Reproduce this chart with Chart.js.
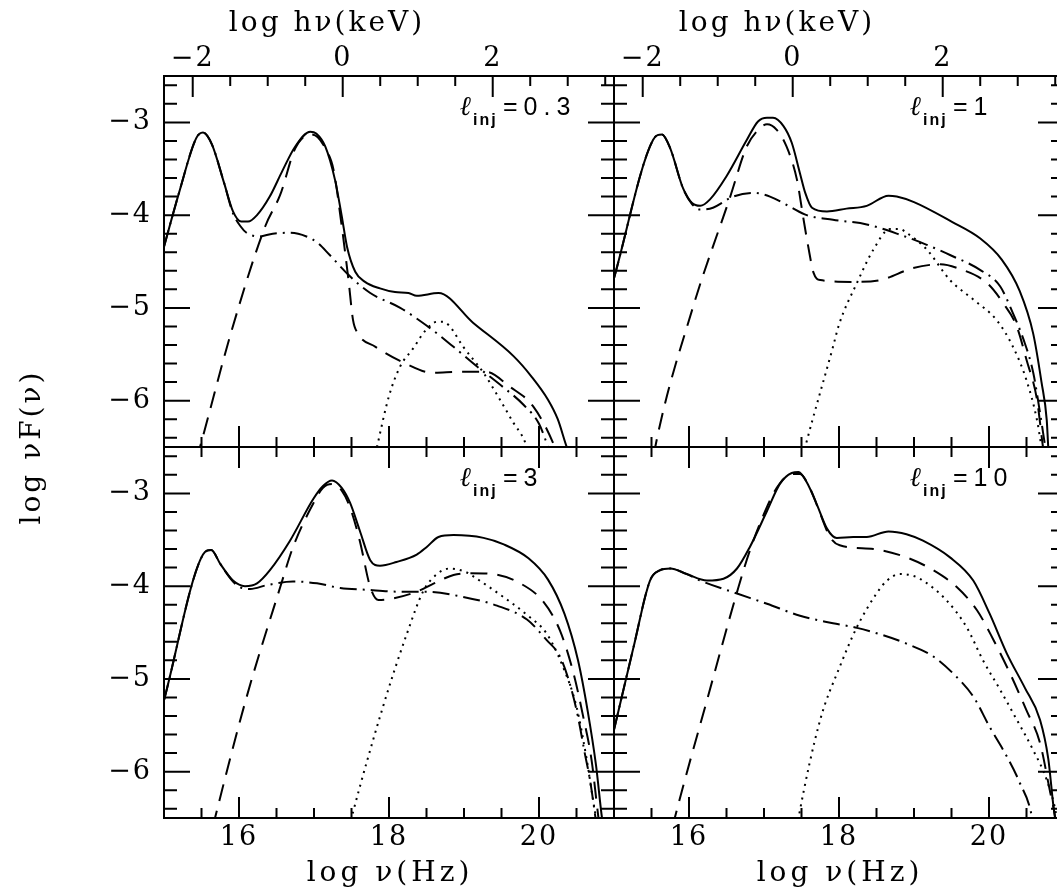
<!DOCTYPE html>
<html><head><meta charset="utf-8">
<script src="https://cdn.jsdelivr.net/npm/chart.js@4/dist/chart.umd.min.js"></script>
<style>
html,body{margin:0;padding:0;background:#fff;overflow:hidden;width:1057px;height:894px;}
canvas{position:absolute;left:0;top:0;}
</style></head><body>
<canvas id="c0" width="1080" height="894"></canvas>
<canvas id="c1" width="1080" height="894"></canvas>
<canvas id="c2" width="1080" height="894"></canvas>
<canvas id="c3" width="1080" height="894"></canvas>
<script>
// ---------- tick values ----------
const hzMajor = [16, 18, 20];
const hzMinor = [15.5, 16.5, 17, 17.5, 18.5, 19, 19.5, 20.5];
const kevMajor = [-2, 0, 2];
const kevMinor = [-1.5, -1, -0.5, 0.5, 1, 1.5, 2.5, 3, 3.5];
const yMajor = [-6, -5, -4, -3];
const yMinor = [-6.4, -6.2, -5.8, -5.6, -5.4, -5.2, -4.8, -4.6, -4.4, -4.2, -3.8, -3.6, -3.4, -3.2, -2.8, -2.6];
const KEV_SHIFT = 17.383; // log10(1 keV / h  in Hz)
const lInj = ['0.3', '1', '3', '10'];

// ---------- l_inj = 0.3 ----------
const tlSolid = [[15.0,-4.34],[15.2,-3.76],[15.43,-3.17],[15.52,-3.11],[15.64,-3.24],[15.8,-3.65],[15.92,-3.96],[16.03,-4.07],[16.12,-4.07],[16.24,-4.0],[16.41,-3.80],[16.58,-3.52],[16.75,-3.26],[16.95,-3.10],[17.03,-3.12],[17.15,-3.26],[17.28,-3.62],[17.37,-4.01],[17.44,-4.34],[17.55,-4.61],[17.68,-4.72],[17.88,-4.79],[18.08,-4.83],[18.26,-4.84],[18.37,-4.87],[18.66,-4.84],[19.12,-5.16],[19.66,-5.52],[19.9,-5.74],[20.12,-5.99],[20.25,-6.2],[20.37,-6.5],[20.42,-6.6]];
const tlDashed = [[15.43,-6.64],[15.48,-6.5],[15.9,-5.25],[16.35,-4.12],[16.55,-3.78],[16.75,-3.28],[16.95,-3.13],[17.05,-3.16],[17.15,-3.28],[17.26,-3.51],[17.37,-4.12],[17.46,-4.70],[17.52,-5.13],[17.58,-5.27],[17.82,-5.42],[18.22,-5.60],[18.58,-5.70],[18.95,-5.69],[19.3,-5.69],[19.61,-5.85],[19.92,-6.06],[20.21,-6.5],[20.25,-6.6]];
const tlDashDot = [[15.0,-4.34],[15.2,-3.76],[15.43,-3.17],[15.52,-3.11],[15.64,-3.24],[15.8,-3.65],[15.92,-3.98],[16.02,-4.12],[16.10,-4.19],[16.26,-4.23],[16.45,-4.20],[16.68,-4.19],[16.90,-4.23],[17.05,-4.30],[17.21,-4.43],[17.48,-4.66],[17.75,-4.84],[18.15,-5.00],[18.50,-5.19],[18.86,-5.42],[19.17,-5.63],[19.5,-5.84],[19.8,-6.05],[20.0,-6.25],[20.12,-6.5],[20.16,-6.6]];
const tlDotted = [[17.80,-6.65],[17.84,-6.5],[18.0,-5.95],[18.15,-5.63],[18.32,-5.44],[18.48,-5.25],[18.64,-5.15],[18.72,-5.15],[18.8,-5.19],[18.99,-5.42],[19.26,-5.70],[19.48,-5.99],[19.66,-6.24],[19.81,-6.44],[19.85,-6.55]];

// ---------- l_inj = 1 ----------
const trSolid = [[15.0,-4.68],[15.52,-3.19],[15.64,-3.13],[15.75,-3.28],[15.92,-3.71],[16.04,-3.87],[16.15,-3.90],[16.28,-3.83],[16.50,-3.58],[16.77,-3.19],[16.92,-2.99],[17.04,-2.95],[17.12,-2.95],[17.26,-3.04],[17.37,-3.22],[17.48,-3.55],[17.55,-3.76],[17.64,-3.92],[17.84,-3.96],[18.10,-3.93],[18.37,-3.90],[18.66,-3.79],[18.77,-3.80],[19.0,-3.86],[19.5,-4.07],[19.88,-4.25],[20.17,-4.48],[20.41,-4.82],[20.59,-5.28],[20.70,-5.80],[20.77,-6.21],[20.79,-6.5],[20.80,-6.6]];
const trDashed = [[15.53,-6.6],[15.55,-6.5],[16.05,-5.0],[16.55,-3.80],[16.77,-3.26],[16.90,-3.10],[17.04,-3.02],[17.17,-3.08],[17.30,-3.26],[17.44,-3.62],[17.52,-4.01],[17.59,-4.34],[17.66,-4.62],[17.75,-4.70],[18.19,-4.72],[18.55,-4.70],[18.99,-4.57],[19.35,-4.53],[19.61,-4.58],[19.97,-4.73],[20.19,-4.95],[20.37,-5.20],[20.50,-5.56],[20.64,-5.99],[20.72,-6.5],[20.74,-6.6]];
const trDashDot = [[15.0,-4.68],[15.52,-3.19],[15.64,-3.13],[15.75,-3.28],[15.92,-3.71],[16.04,-3.88],[16.15,-3.94],[16.32,-3.92],[16.59,-3.80],[16.86,-3.76],[17.08,-3.80],[17.35,-3.91],[17.57,-4.0],[17.92,-4.05],[18.37,-4.10],[18.81,-4.21],[19.17,-4.32],[19.48,-4.43],[19.88,-4.59],[20.15,-4.77],[20.32,-5.06],[20.46,-5.34],[20.59,-5.70],[20.68,-6.13],[20.75,-6.5],[20.77,-6.6]];
const trDotted = [[17.52,-6.6],[17.55,-6.5],[17.92,-5.42],[18.0,-5.18],[18.24,-4.73],[18.46,-4.37],[18.68,-4.15],[18.81,-4.15],[18.9,-4.19],[19.17,-4.37],[19.48,-4.70],[19.79,-4.91],[20.10,-5.13],[20.32,-5.42],[20.50,-5.78],[20.64,-6.21],[20.70,-6.5],[20.72,-6.6]];

// ---------- l_inj = 3 ----------
const blSolid = [[15.0,-5.23],[15.52,-3.66],[15.63,-3.61],[15.75,-3.76],[15.92,-3.94],[16.08,-4.0],[16.24,-3.97],[16.41,-3.83],[16.68,-3.51],[16.99,-3.06],[17.12,-2.92],[17.24,-2.86],[17.37,-2.94],[17.48,-3.10],[17.61,-3.40],[17.75,-3.72],[17.88,-3.78],[18.10,-3.74],[18.37,-3.66],[18.50,-3.58],[18.66,-3.47],[18.86,-3.45],[19.26,-3.48],[19.53,-3.55],[19.86,-3.70],[20.12,-3.93],[20.34,-4.30],[20.52,-4.80],[20.65,-5.35],[20.76,-5.93],[20.84,-6.5],[20.86,-6.6]];
const blDashed = [[15.65,-6.6],[15.68,-6.5],[16.1,-5.2],[16.55,-4.01],[16.72,-3.58],[16.99,-3.11],[17.12,-2.94],[17.24,-2.90],[17.37,-2.97],[17.48,-3.15],[17.61,-3.51],[17.75,-4.01],[17.86,-4.15],[18.01,-4.14],[18.37,-4.06],[18.6,-3.97],[18.86,-3.88],[19.08,-3.86],[19.39,-3.87],[19.75,-3.97],[20.06,-4.17],[20.28,-4.48],[20.46,-4.94],[20.59,-5.41],[20.70,-5.87],[20.79,-6.48],[20.81,-6.6]];
const blDashDot = [[15.0,-5.23],[15.52,-3.66],[15.63,-3.61],[15.75,-3.76],[15.92,-3.95],[16.01,-4.01],[16.15,-4.03],[16.37,-3.99],[16.72,-3.95],[17.04,-3.97],[17.35,-4.02],[17.70,-4.04],[18.15,-4.06],[18.50,-4.06],[18.95,-4.11],[19.44,-4.21],[19.84,-4.36],[20.10,-4.58],[20.28,-4.76],[20.41,-5.05],[20.52,-5.41],[20.61,-5.80],[20.68,-6.09],[20.75,-6.48],[20.77,-6.6]];
const blDotted = [[17.47,-6.6],[17.50,-6.5],[17.92,-5.30],[18.24,-4.51],[18.46,-4.05],[18.64,-3.87],[18.81,-3.81],[19.03,-3.85],[19.17,-3.92],[19.53,-4.12],[19.84,-4.31],[20.10,-4.51],[20.32,-4.87],[20.50,-5.30],[20.63,-5.84],[20.72,-6.30],[20.76,-6.5],[20.78,-6.6]];

// ---------- l_inj = 10 ----------
const brSolid = [[15.0,-5.55],[15.26,-4.66],[15.48,-3.94],[15.61,-3.83],[15.75,-3.81],[15.97,-3.87],[16.24,-3.94],[16.46,-3.92],[16.64,-3.81],[16.81,-3.58],[17.04,-3.19],[17.21,-2.90],[17.37,-2.78],[17.46,-2.77],[17.57,-2.88],[17.70,-3.11],[17.84,-3.38],[17.97,-3.48],[18.19,-3.47],[18.37,-3.47],[18.66,-3.41],[18.90,-3.44],[19.12,-3.51],[19.48,-3.69],[19.79,-3.94],[20.01,-4.30],[20.24,-4.73],[20.48,-5.10],[20.68,-5.44],[20.79,-5.86],[20.86,-6.38],[20.88,-6.5],[20.89,-6.6]];
const brDashed = [[15.78,-6.6],[15.81,-6.5],[16.25,-5.2],[16.66,-4.01],[16.81,-3.62],[16.99,-3.24],[17.17,-2.94],[17.37,-2.79],[17.48,-2.79],[17.61,-2.94],[17.75,-3.22],[17.88,-3.47],[18.01,-3.56],[18.46,-3.60],[18.90,-3.69],[19.26,-3.83],[19.57,-4.01],[19.84,-4.26],[20.06,-4.58],[20.28,-4.94],[20.50,-5.34],[20.68,-5.69],[20.81,-6.20],[20.88,-6.48],[20.90,-6.6]];
const brDashDot = [[15.0,-5.55],[15.26,-4.66],[15.48,-3.94],[15.61,-3.83],[15.75,-3.81],[15.97,-3.87],[16.15,-3.94],[16.64,-4.08],[17.04,-4.19],[17.48,-4.32],[17.92,-4.40],[18.24,-4.45],[18.59,-4.53],[18.90,-4.62],[19.26,-4.76],[19.52,-4.94],[19.79,-5.19],[20.01,-5.52],[20.24,-5.84],[20.41,-6.12],[20.57,-6.48],[20.59,-6.6]];
const brDotted = [[17.44,-6.6],[17.46,-6.5],[17.75,-5.44],[18.01,-4.87],[18.24,-4.44],[18.50,-4.08],[18.64,-3.94],[18.81,-3.87],[18.99,-3.89],[19.12,-3.94],[19.43,-4.15],[19.70,-4.44],[19.92,-4.80],[20.15,-5.12],[20.37,-5.44],[20.59,-5.77],[20.77,-6.09],[20.90,-6.48],[20.92,-6.6]];

// ---------- drawing ----------
const SERIF = '"DejaVu Serif", "Liberation Serif", serif';
const SANS = '"Liberation Sans", Arial, sans-serif';
const fmt = v => (v < 0 ? '\u2212' + Math.abs(v) : String(v));

function lineDs(pts, dash) {
  return {
    data: pts.map(([x, y]) => ({x, y})),
    borderColor: '#000', borderWidth: 2, borderDash: dash,
    pointRadius: 0, fill: false, cubicInterpolationMode: 'monotone',
    clip: 0, xAxisID: 'x', yAxisID: 'y'
  };
}

function decoPlugin(p) {
  return {
    id: 'deco' + p.idx,
    beforeDraw(chart) { chart.ctx.letterSpacing = '2px'; },
    afterDatasetsDraw(chart) {
      const ctx = chart.ctx, ca = chart.chartArea, sx = chart.scales.x, sy = chart.scales.y;
      ctx.save();
      ctx.strokeStyle = '#000'; ctx.lineWidth = 2; ctx.setLineDash([]);
      ctx.beginPath();
      const seg = (x1, y1, x2, y2) => { ctx.moveTo(x1, y1); ctx.lineTo(x2, y2); };
      yMajor.forEach(v => { const py = sy.getPixelForValue(v); seg(ca.left, py, ca.left + 26, py); seg(ca.right, py, ca.right - 26, py); });
      yMinor.forEach(v => { const py = sy.getPixelForValue(v); seg(ca.left, py, ca.left + 13, py); seg(ca.right, py, ca.right - 13, py); });
      hzMajor.forEach(v => { const px = sx.getPixelForValue(v); seg(px, ca.bottom, px, ca.bottom - 21); });
      hzMinor.forEach(v => { const px = sx.getPixelForValue(v); seg(px, ca.bottom, px, ca.bottom - 10); });
      if (p.kevTop) {
        const sk = chart.scales.xk;
        kevMajor.forEach(v => { const px = sk.getPixelForValue(v); seg(px, ca.top, px, ca.top + 21); });
        kevMinor.forEach(v => { const px = sk.getPixelForValue(v); seg(px, ca.top, px, ca.top + 10); });
      } else {
        hzMajor.forEach(v => { const px = sx.getPixelForValue(v); seg(px, ca.top, px, ca.top + 21); });
        hzMinor.forEach(v => { const px = sx.getPixelForValue(v); seg(px, ca.top, px, ca.top + 10); });
      }
      ctx.stroke();
      ctx.strokeRect(ca.left, ca.top, ca.right - ca.left, ca.bottom - ca.top);
      ctx.restore();
    },
    afterDraw(chart) {
      const ctx = chart.ctx, ca = chart.chartArea;
      ctx.save();
      ctx.fillStyle = '#000';
      // legend label l_inj = value
      ctx.textAlign = 'left'; ctx.textBaseline = 'alphabetic';
      const b = ca.top + 39;
      ctx.letterSpacing = '0px';
      ctx.font = 'italic bold 27px ' + SERIF;
      ctx.fillText('\u2113', ca.left + 296, b);
      ctx.letterSpacing = '2px';
      ctx.font = 'bold 16px ' + SANS;
      ctx.fillText('inj', ca.left + 309, b + 10);
      ctx.letterSpacing = '6px';
      ctx.font = '25px ' + SANS;
      ctx.fillText('=' + lInj[p.idx], ca.left + 339, b);
      // axis titles
      ctx.textAlign = 'center'; ctx.textBaseline = 'middle';
      ctx.font = '28px ' + SERIF;
      if (p.kevTop) {
        ctx.letterSpacing = '3px';
        ctx.fillText('log hν(keV)', ca.left + 163, 24);
      }
      if (p.hzBottom) {
        ctx.letterSpacing = '4px';
        ctx.fillText('log ν(Hz)', ca.left + 226, 874);
      }
      if (p.yTitle) {
        ctx.letterSpacing = '3px';
        ctx.translate(33, 447);
        ctx.rotate(-Math.PI / 2);
        ctx.fillText('log νF(ν)', 0, 0);
      }
      ctx.restore();
    }
  };
}

function makePanel(p, sets) {
  const tickFont = {family: SERIF, size: 27};
  const scales = {
    x: {
      type: 'linear', position: 'bottom', min: 15, max: 21, display: !!p.hzBottom,
      afterBuildTicks: s => { s.ticks = hzMajor.map(v => ({value: v})); },
      afterFit: s => { if (p.hzBottom) s.height = 76; },
      grid: {display: false, drawTicks: false}, border: {display: false},
      ticks: {font: tickFont, color: '#000', padding: 4, autoSkip: false, maxRotation: 0, minRotation: 0, callback: fmt}
    },
    y: {
      type: 'linear', position: 'left', min: -6.5, max: -2.5, display: !!p.yLabels,
      afterBuildTicks: s => { s.ticks = yMajor.map(v => ({value: v})); },
      afterFit: s => { if (p.yLabels) s.width = 80; },
      grid: {display: false, drawTicks: false}, border: {display: false},
      ticks: {font: tickFont, color: '#000', padding: 12, callback: fmt}
    }
  };
  if (p.kevTop) {
    scales.xk = {
      type: 'linear', position: 'top', min: 15 - KEV_SHIFT, max: 21 - KEV_SHIFT, display: true,
      afterBuildTicks: s => { s.ticks = kevMajor.map(v => ({value: v})); },
      afterFit: s => { s.height = 40; },
      grid: {display: false, drawTicks: false}, border: {display: false},
      ticks: {font: tickFont, color: '#000', padding: 1, autoSkip: false, maxRotation: 0, minRotation: 0, callback: fmt}
    };
  }
  new Chart(document.getElementById('c' + p.idx), {
    type: 'line',
    data: {datasets: [
      lineDs(sets[0], []),
      lineDs(sets[1], [17, 10]),
      lineDs(sets[2], [17, 6, 2, 6]),
      lineDs(sets[3], [2, 5])
    ]},
    options: {
      responsive: false, animation: false, devicePixelRatio: 1,
      layout: {padding: p.pad},
      plugins: {legend: {display: false}, tooltip: {enabled: false}, title: {display: false}},
      scales
    },
    plugins: [decoPlugin(p)]
  });
}

makePanel({idx: 0, kevTop: true, yLabels: true, yTitle: true, pad: {left: 84, top: 36, right: 466, bottom: 447}},
  [tlSolid, tlDashed, tlDashDot, tlDotted]);
makePanel({idx: 1, kevTop: true, pad: {left: 614, top: 36, right: 16, bottom: 447}},
  [trSolid, trDashed, trDashDot, trDotted]);
makePanel({idx: 2, hzBottom: true, yLabels: true, pad: {left: 84, top: 447, right: 466, bottom: 0}},
  [blSolid, blDashed, blDashDot, blDotted]);
makePanel({idx: 3, hzBottom: true, pad: {left: 614, top: 447, right: 16, bottom: 0}},
  [brSolid, brDashed, brDashDot, brDotted]);
</script>
</body></html>
